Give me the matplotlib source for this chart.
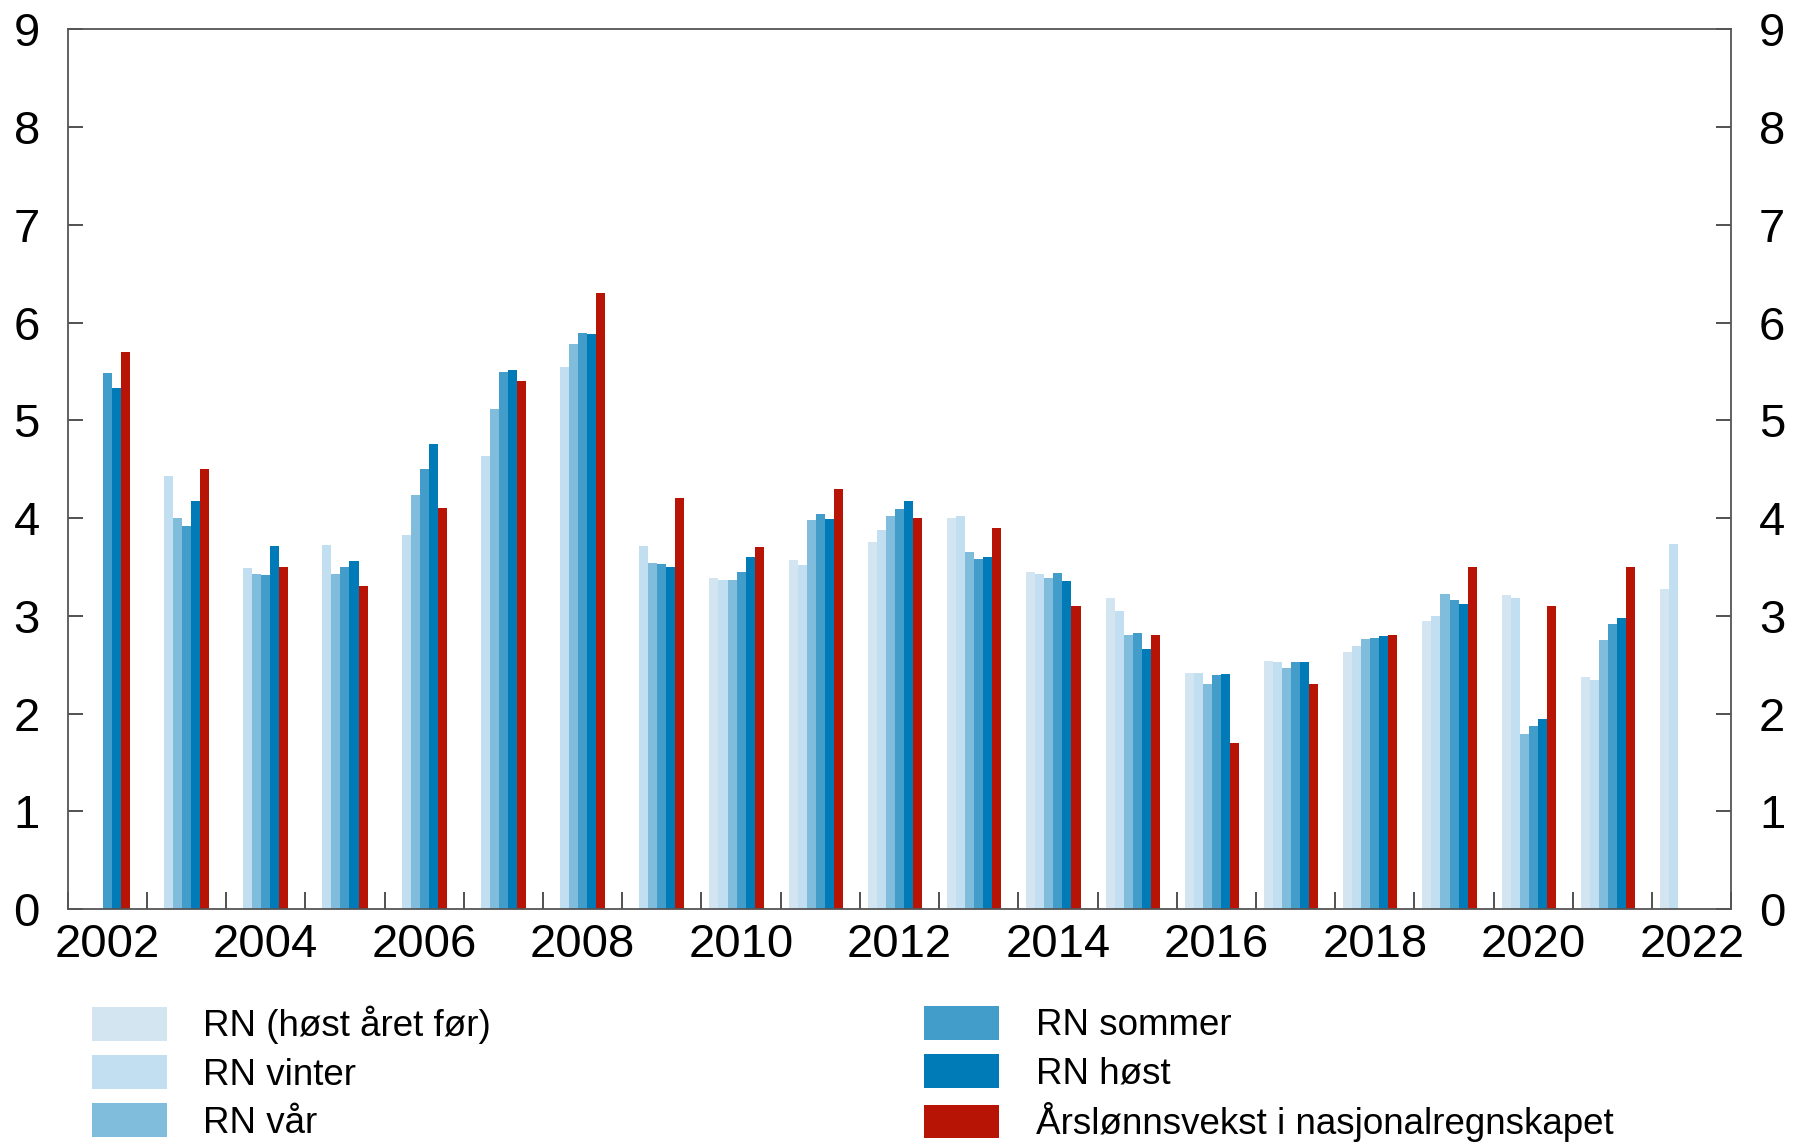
import numpy as np
import matplotlib
matplotlib.use('Agg')
from matplotlib import pyplot as plt

plt.rcParams['font.family'] = ['Liberation Sans', 'DejaVu Sans']

# Data (NaN = no bar)
nan = np.nan
years = list(range(2002, 2023))
host_aret_for = [nan, nan, nan, nan, nan, nan, nan, nan, 3.39, 3.57, 3.75,
                 4.00, 3.45, 3.18, 2.41, 2.54, 2.63, 2.95, 3.21, 2.37, 3.27]
vinter = [nan, 4.43, 3.49, 3.72, 3.83, 4.63, 5.54, 3.71, 3.37, 3.52, 3.88,
          4.02, 3.43, 3.05, 2.41, 2.53, 2.69, 3.00, 3.18, 2.34, 3.73]
vaar = [nan, 4.00, 3.43, 3.43, 4.24, 5.12, 5.78, 3.54, 3.37, 3.98, 4.02,
        3.65, 3.39, 2.80, 2.30, 2.47, 2.76, 3.22, 1.79, 2.75, nan]
sommer = [5.48, 3.92, 3.42, 3.50, 4.50, 5.49, 5.89, 3.53, 3.45, 4.04, 4.09,
          3.58, 3.44, 2.82, 2.39, 2.53, 2.77, 3.16, 1.87, 2.92, nan]
host = [5.33, 4.17, 3.71, 3.56, 4.76, 5.51, 5.88, 3.50, 3.60, 3.99, 4.17,
        3.60, 3.36, 2.66, 2.40, 2.53, 2.79, 3.12, 1.94, 2.98, nan]
lonnsvekst = [5.7, 4.5, 3.5, 3.3, 4.1, 5.4, 6.3, 4.2, 3.7, 4.3, 4.0,
              3.9, 3.1, 2.8, 1.7, 2.3, 2.8, 3.5, 3.1, 3.5, nan]

labels = ['RN (høst året før)', 'RN vinter', 'RN vår',
          'RN sommer', 'RN høst', 'Årslønnsvekst i nasjonalregnskapet']
colors = ['#d4e5f2', '#c1dff0', '#80bcdb', '#439dcb', '#007bb8', '#b81405']
series = [host_aret_for, vinter, vaar, sommer, host, lonnsvekst]

fig = plt.figure(figsize=(17.93, 11.42), dpi=100)
ax = fig.add_axes([67.7 / 1793, 1 - 909 / 1142,
                   (1731.3 - 67.7) / 1793, (909 - 29.3) / 1142])

x = np.array(years, dtype=float)
w = 0.114
handles = []
for k in range(6):
    # 7 slots per year, last one left empty
    b = ax.bar(x + (k - 3) * w, series[k], width=w, color=colors[k],
               linewidth=0, label=labels[k])
    handles.append(b)

ax.set_xlim(2001.5, 2022.5)
ax.set_ylim(0, 9)

# year labels every second year, tick marks on the year boundaries
ax.set_xticks(years[::2])
ax.set_xticklabels([str(y) for y in years[::2]])
ax.set_xticks(np.arange(2001.5, 2023.0, 1.0), minor=True)
ax.tick_params(axis='x', which='major', length=0, pad=10, labelsize=34)
ax.tick_params(axis='x', which='minor', direction='in', length=12,
               width=1.2, color='#333333')

ax.set_yticks(range(0, 10))
ax.tick_params(axis='y', which='major', direction='in', length=11,
               width=1.2, color='#333333', labelsize=34, pad=20,
               left=True, right=True, labelleft=True, labelright=True)

for s in ax.spines.values():
    s.set_color('#555555')
    s.set_linewidth(1.3)

# legend in two columns under the plot
legend_kw = dict(loc='upper left', frameon=False, fontsize=26.5,
                 handlelength=2.05, handleheight=1.03, handletextpad=0.98,
                 labelspacing=0.29, borderpad=0, borderaxespad=0)
fig.legend(handles[:3], labels[:3],
           bbox_to_anchor=(91.7 / 1793, 1 - 1006 / 1142), **legend_kw)
fig.legend(handles[3:], labels[3:],
           bbox_to_anchor=(924 / 1793, 1 - 1006 / 1142), **legend_kw)

fig.savefig('out.png', dpi=100)
